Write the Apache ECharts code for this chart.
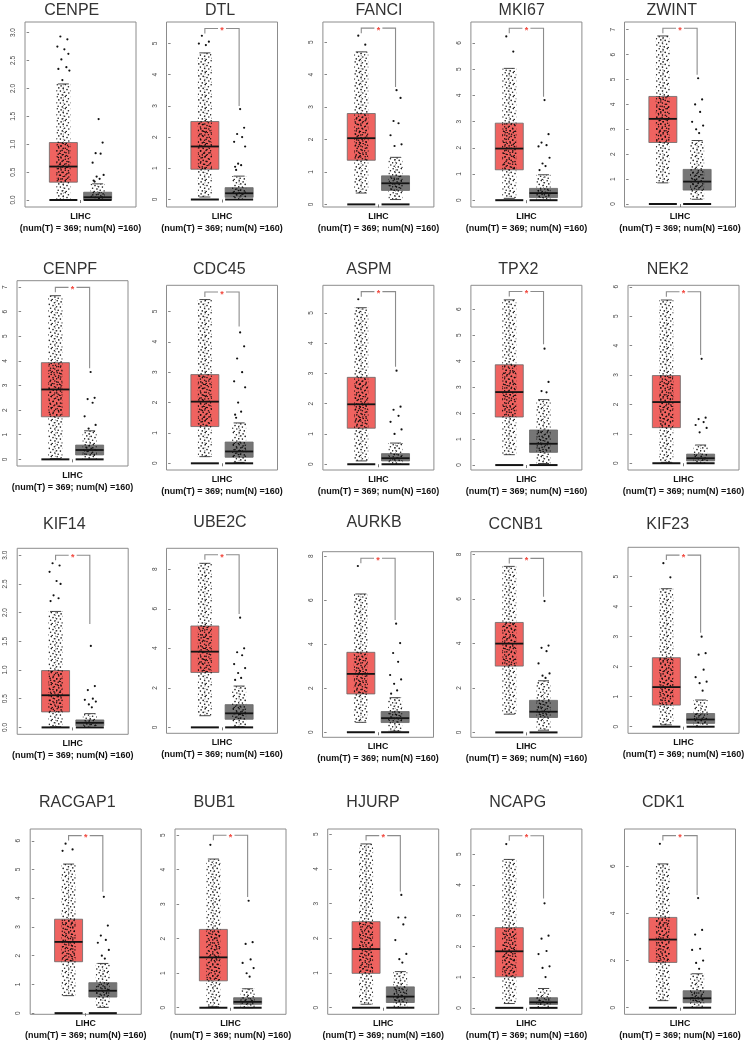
<!DOCTYPE html>
<html><head><meta charset="utf-8">
<script src="https://cdn.jsdelivr.net/npm/echarts@6/dist/echarts.min.js"></script>
<style>html,body{margin:0;padding:0;background:#fff}#c{width:750px;height:1045px}</style>
</head><body><div id="c"></div>
<script>
// ---------------- DATA ----------------
const genes = ['CENPE','DTL','FANCI','MKI67','ZWINT','CENPF','CDC45','ASPM','TPX2','NEK2',
               'KIF14','UBE2C','AURKB','CCNB1','KIF23','RACGAP1','BUB1','HJURP','NCAPG','CDK1'];
const cohort = 'LIHC';
const numT = 369, numN = 160;

// [lower whisker, Q1, median, Q3, upper whisker]
const tumorStats = [
  [0, 0.32, 0.6, 1.03, 2.08],
  [0.08, 0.97, 1.7, 2.5, 4.7],
  [0.35, 1.36, 2.04, 2.8, 4.7],
  [0.07, 1.16, 1.97, 2.94, 5.03],
  [0.85, 2.47, 3.42, 4.32, 6.75],
  [0.03, 1.73, 2.84, 3.93, 6.65],
  [0.22, 1.21, 2.03, 2.92, 5.39],
  [0.11, 1.19, 1.98, 2.87, 5.17],
  [0.4, 1.85, 2.81, 3.86, 6.36],
  [0.03, 1.21, 2.08, 2.98, 5.55],
  [0.01, 0.27, 0.56, 0.99, 2.02],
  [0.59, 2.78, 3.83, 5.13, 8.3],
  [0.45, 1.74, 2.65, 3.63, 6.28],
  [0.82, 2.98, 3.99, 4.94, 7.46],
  [0.06, 0.72, 1.32, 2.3, 4.6],
  [0.61, 1.79, 2.48, 3.27, 5.19],
  [0.03, 0.78, 1.46, 2.27, 4.31],
  [0.1, 0.99, 1.69, 2.48, 4.72],
  [0.14, 1.01, 1.84, 2.61, 4.83],
  [0.3, 1.92, 2.89, 3.83, 6.1]
];
const normalStats = [
  [0, 0.01, 0.05, 0.14, 0.29],
  [0, 0.07, 0.2, 0.38, 0.75],
  [0.15, 0.43, 0.65, 0.88, 1.45],
  [0, 0.1, 0.27, 0.45, 0.97],
  [0.19, 0.56, 0.9, 1.39, 2.55],
  [0, 0.18, 0.38, 0.58, 1.16],
  [0.03, 0.2, 0.39, 0.7, 1.33],
  [0, 0.11, 0.2, 0.35, 0.7],
  [0.06, 0.49, 0.82, 1.35, 2.52],
  [0, 0.08, 0.17, 0.31, 0.62],
  [0, 0.03, 0.08, 0.13, 0.24],
  [0.03, 0.41, 0.71, 1.15, 2.09],
  [0.05, 0.44, 0.64, 0.94, 1.57],
  [0.1, 0.67, 0.93, 1.44, 2.32],
  [0, 0.11, 0.24, 0.44, 0.89],
  [0.2, 0.56, 0.78, 1.06, 1.73],
  [0, 0.1, 0.17, 0.29, 0.55],
  [0, 0.15, 0.32, 0.6, 1.04],
  [0, 0.11, 0.18, 0.33, 0.63],
  [0, 0.21, 0.4, 0.72, 1.44]
];
// visible points beyond the upper whisker
const tumorOutliers = [
  [2.93, 2.88, 2.75, 2.7, 2.62, 2.52, 2.38, 2.35, 2.32, 2.15],
  [5.25, 5.06, 5.0, 4.95],
  [5.2, 4.92],
  [6.25, 5.67],
  [], [], [],
  [5.45],
  [], [],
  [2.86, 2.82, 2.71, 2.55, 2.5, 2.3, 2.25, 2.2],
  [],
  [7.55],
  [],
  [5.45, 4.98],
  [5.9, 5.7, 5.65],
  [4.72],
  [],
  [5.33],
  [6.95]
];
const normalOutliers = [
  [1.45, 1.03, 0.84, 0.83, 0.67, 0.45, 0.42, 0.38, 0.35, 0.33],
  [2.9, 2.3, 2.1, 2.0, 1.85, 1.7, 1.15, 1.1, 1.05, 0.95],
  [3.52, 3.28, 2.57, 2.5, 2.13, 1.85, 1.8],
  [3.82, 2.52, 2.2, 2.1, 2.05, 1.62, 1.4, 1.3, 1.15],
  [5.05, 4.2, 4.0, 3.7, 3.3, 3.15, 3.0, 2.85],
  [3.55, 2.5, 2.45, 2.3, 1.75, 1.4, 1.25],
  [4.31, 3.85, 3.45, 3.0, 2.7, 2.5, 2.0, 1.7, 1.6, 1.5],
  [3.09, 1.9, 1.8, 1.6, 1.4, 1.15, 1.0],
  [4.48, 3.2, 2.85, 2.8],
  [3.55, 1.55, 1.5, 1.4, 1.3, 1.2, 1.05],
  [1.42, 0.72, 0.65, 0.5, 0.48, 0.45, 0.4, 0.35],
  [5.55, 4.0, 3.8, 3.65, 3.2, 3.0, 2.75, 2.5, 2.4],
  [4.93, 4.05, 3.6, 3.2, 2.6, 2.4, 2.2, 1.9, 1.75],
  [5.9, 3.9, 3.8, 3.65, 3.1, 2.65, 2.55, 2.45],
  [3.0, 2.45, 2.4, 1.9, 1.65, 1.5, 1.45, 1.2],
  [4.05, 3.05, 2.7, 2.55, 2.45, 2.2, 2.0, 1.9],
  [3.1, 1.9, 1.85, 1.4, 1.3, 1.15, 1.0, 0.9],
  [3.25, 2.6, 2.6, 2.4, 1.95, 1.55, 1.4, 1.3],
  [3.4, 2.35, 2.25, 1.85, 1.75, 1.35, 1.3, 1.0],
  [4.65, 3.3, 3.1, 2.5, 2.45, 2.0, 1.9, 1.65]
];
// significance bracket: [bracket level, lower end of right leg]; null = not significant
const sigBracket = [
  null, [5.48, 3.0], [5.43, 3.62], [6.56, 3.95], [7.06, 5.19],
  [6.99, 3.7], [5.64, 4.5], [5.7, 3.22], [6.68, 4.65], [5.83, 3.68],
  [3.0, 1.8], [8.73, 5.74], [7.9, 5.1], [7.82, 6.1], [5.72, 3.13],
  [6.18, 4.23], [5.0, 3.21], [4.96, 3.35], [5.6, 3.56], [7.3, 4.78]
];
// y-axis ticks
const yTicks = [
  [0, 0.5, 1, 1.5, 2, 2.5, 3], [0,1,2,3,4,5], [0,1,2,3,4,5], [0,1,2,3,4,5,6], [0,1,2,3,4,5,6,7],
  [0,1,2,3,4,5,6,7], [0,1,2,3,4,5], [0,1,2,3,4,5], [0,1,2,3,4,5,6], [0,1,2,3,4,5,6],
  [0, 0.5, 1, 1.5, 2, 2.5, 3], [0,2,4,6,8], [0,2,4,6,8], [0,2,4,6,8], [0,1,2,3,4,5],
  [0,1,2,3,4,5,6], [0,1,2,3,4,5], [0,1,2,3,4,5], [0,1,2,3,4,5], [0,2,4,6]
];
const yTickDecimals = [1,0,0,0,0, 0,0,0,0,0, 1,0,0,0,0, 0,0,0,0,0];
const yRange = [
  [-0.125, 3.19], [-0.24, 5.69], [-0.08, 5.62], [-0.26, 6.8], [-0.12, 7.31],
  [-0.27, 7.26], [-0.22, 5.86], [-0.19, 5.91], [-0.19, 6.92], [-0.23, 6.05],
  [-0.12, 3.12], [-0.3, 9.06], [-0.23, 8.2], [-0.22, 8.12], [-0.22, 5.98],
  [-0.04, 6.41], [-0.19, 5.18], [-0.19, 5.15], [-0.21, 5.82], [-0.28, 7.58]
];

// ---------------- LAYOUT ----------------
const frameLeft = [25, 166.5, 322.9, 470.9, 624.5,
                   17, 166.5, 322.9, 470.9, 628,
                   17.2, 166.5, 322.5, 470.9, 628,
                   30.2, 175, 327.7, 470.9, 624.5];
const frameTop = [22,22,22,22,22, 280.7,285.3,285.3,285.3,285.3,
                  548.3,548.3,551.7,551.7,547.3, 829,829,829,829,829];
const frameBottom = [207,207,207,207,207, 466,470,470,470,470,
                     734.3,733.3,737.3,737.3,733.3, 1014.3,1014.3,1014.3,1014.3,1014.3];
const titlePos = [[71.7,11],[220,11],[379,11],[521.7,11],[671.7,11],
                  [70,270],[219.3,270],[369,270],[518.3,270],[667.7,270],
                  [64.3,525],[220,523],[374,523],[515.7,525],[667.7,525],
                  [77.3,803],[214.3,803],[373,803],[517.7,803],[663.3,803]];
const FRAME_W = 111;
const XMIN = -0.12, XMAX = 3.12;
const TUMOR_COLOR = '#EF6360';
const NORMAL_COLOR = '#767676';
const FONT = '"Liberation Sans", Arial, Helvetica, sans-serif';
const JITTER = [-3, 4, -6, 1, 5, -2, 3, -5, 6, -1, 2, -4];

function makePattern(pts, w, h, r, color) {
  const cv = document.createElement('canvas');
  cv.width = w; cv.height = h;
  const ctx = cv.getContext('2d');
  ctx.fillStyle = color;
  pts.forEach(p => { ctx.beginPath(); ctx.arc(p[0], p[1], r, 0, Math.PI * 2); ctx.fill(); });
  return { image: cv, repeat: 'repeat' };
}
// dot textures used to render the dense jittered sample cloud inside each whisker range
const patA = makePattern([[1.2,0.8],[5.1,1.9],[9.3,0.6],[12.4,2.7],[2.8,3.9],[7.2,4.4],[11,5.6],
                          [0.6,6.8],[4.4,7.1],[8.6,8.2],[12.8,9],[2.2,10.3],[6.3,10.9],[10.2,11.6]], 14, 12, 0.8, 'rgba(8,8,8,0.9)');
const patB = makePattern([[3.2,0.5],[7.6,2.3],[0.8,3],[10.4,3.6],[5.3,5.2],[2.1,7.4],[8.8,7.9],[6,9.8],[11.5,10.2],[0.4,10.9]], 12, 11, 0.8, 'rgba(8,8,8,0.9)');

function renderBox(params, api) {
  const gx = api.value(0);
  const s = [api.value(1), api.value(2), api.value(3), api.value(4), api.value(5)];
  const kind = api.value(6);
  const px = api.coord([gx, 0])[0];
  const y = v => api.coord([gx, v])[1];
  const half = 14;
  const fill = kind === 0 ? TUMOR_COLOR : NORMAL_COLOR;
  const wStyle = { stroke: '#7a7a7a', lineWidth: 0.8, lineDash: [1.2, 1.4] };
  const ch = [];
  ch.push({ type: 'line', shape: { x1: px, y1: y(s[3]), x2: px, y2: y(s[4]) }, style: wStyle });
  ch.push({ type: 'line', shape: { x1: px, y1: y(s[1]), x2: px, y2: y(s[0]) }, style: wStyle });
  ch.push({ type: 'rect', shape: { x: px - half, y: y(s[3]), width: 2 * half, height: y(s[1]) - y(s[3]) },
            style: { fill: fill, stroke: '#686868', lineWidth: 0.8 } });
  ch.push({ type: 'rect', shape: { x: px - 7, y: y(s[4]), width: 14, height: y(s[0]) - y(s[4]) }, style: { fill: patA } });
  ch.push({ type: 'rect', shape: { x: px - 7, y: y(s[3]), width: 14, height: y(s[1]) - y(s[3]) }, style: { fill: patB } });
  ch.push({ type: 'line', shape: { x1: px - 5.5, y1: y(s[4]), x2: px + 5.5, y2: y(s[4]) }, style: { stroke: '#333', lineWidth: 0.9 } });
  ch.push({ type: 'line', shape: { x1: px - 5.5, y1: y(s[0]), x2: px + 5.5, y2: y(s[0]) }, style: { stroke: '#333', lineWidth: 0.9 } });
  ch.push({ type: 'line', shape: { x1: px - half, y1: y(s[2]), x2: px + half, y2: y(s[2]) }, style: { stroke: '#141414', lineWidth: 1.8 } });
  ch.push({ type: 'line', shape: { x1: px - half, y1: y(0), x2: px + half, y2: y(0) }, style: { stroke: '#141414', lineWidth: 2 } });
  return { type: 'group', children: ch };
}
function renderPts(params, api) {
  const c = api.coord([api.value(0), api.value(1)]);
  const dx = JITTER[api.value(2) % JITTER.length];
  return { type: 'circle', shape: { cx: c[0] + dx, cy: c[1], r: 1.1 }, style: { fill: '#111' } };
}
function renderSig(params, api) {
  const top = api.value(0), rEnd = api.value(1);
  const p1 = api.coord([1, top]), p2 = api.coord([2, top]);
  const yR = api.coord([2, rEnd])[1];
  const mid = (p1[0] + p2[0]) / 2;
  const st = { stroke: '#8c8c8c', lineWidth: 1.1, fill: null };
  return { type: 'group', children: [
    { type: 'polyline', shape: { points: [[p1[0], p1[1] + 5], [p1[0], p1[1]], [mid - 4, p1[1]]] }, style: st },
    { type: 'polyline', shape: { points: [[mid + 4, p1[1]], [p2[0], p1[1]], [p2[0], yR]] }, style: st },
    { type: 'text', x: mid, y: p1[1] + 2.2, style: { text: '*', fill: '#F2493F', font: 'bold 9px ' + FONT, align: 'center', verticalAlign: 'middle' } }
  ]};
}

const grids = [], xAxes = [], yAxes = [], series = [], graphics = [];
genes.forEach((g, i) => {
  grids.push({ left: frameLeft[i], top: frameTop[i], width: FRAME_W, height: frameBottom[i] - frameTop[i],
               show: true, borderColor: '#8c8c8c', borderWidth: 1, backgroundColor: 'transparent', containLabel: false });
  xAxes.push({ gridIndex: i, type: 'value', min: XMIN, max: XMAX, splitLine: { show: false },
    axisLine: { show: false },
    axisTick: { show: true, length: 3, customValues: [1.5], lineStyle: { color: '#555', width: 0.8 } },
    axisLabel: { show: true, customValues: [1.5], margin: 3.5,
      formatter: () => '{a|' + cohort + '}\n{b|(num(T) = ' + numT + '; num(N) =' + numN + ')}',
      rich: { a: { fontSize: 8.8, fontWeight: 'bold', lineHeight: 12, color: '#111', fontFamily: FONT },
              b: { fontSize: 9, fontWeight: 'bold', lineHeight: 12, color: '#111', fontFamily: FONT } } } });
  const dec = yTickDecimals[i];
  yAxes.push({ gridIndex: i, type: 'value', min: yRange[i][0], max: yRange[i][1], offset: 4,
    splitLine: { show: false }, axisLine: { show: false },
    axisTick: { show: true, length: 2.5, customValues: yTicks[i], lineStyle: { color: '#666', width: 0.8 } },
    axisLabel: { show: true, customValues: yTicks[i], rotate: 90, margin: 4, fontSize: 6.5, color: '#444',
      fontFamily: FONT, formatter: v => Number(v).toFixed(dec) } });
  series.push({ type: 'custom', xAxisIndex: i, yAxisIndex: i, renderItem: renderBox, silent: true,
    data: [[1].concat(tumorStats[i], [0]), [2].concat(normalStats[i], [1])] });
  const pts = [];
  tumorOutliers[i].forEach((v, k) => pts.push([1, v, k]));
  normalOutliers[i].forEach((v, k) => pts.push([2, v, k + 3]));
  series.push({ type: 'custom', xAxisIndex: i, yAxisIndex: i, renderItem: renderPts, silent: true, data: pts });
  if (sigBracket[i]) {
    series.push({ type: 'custom', xAxisIndex: i, yAxisIndex: i, renderItem: renderSig, silent: true, data: [sigBracket[i]] });
  }
  graphics.push({ type: 'text', x: titlePos[i][0], y: titlePos[i][1],
    style: { text: g, font: '16px ' + FONT, fill: '#333', align: 'center', verticalAlign: 'middle',
             textAlign: 'center', textVerticalAlign: 'middle' } });
});

const chart = echarts.init(document.getElementById('c'), null, { renderer: 'canvas', width: 750, height: 1045 });
chart.setOption({
  backgroundColor: '#ffffff',
  animation: false,
  grid: grids, xAxis: xAxes, yAxis: yAxes, series: series, graphic: graphics
});
</script>
</body></html>
